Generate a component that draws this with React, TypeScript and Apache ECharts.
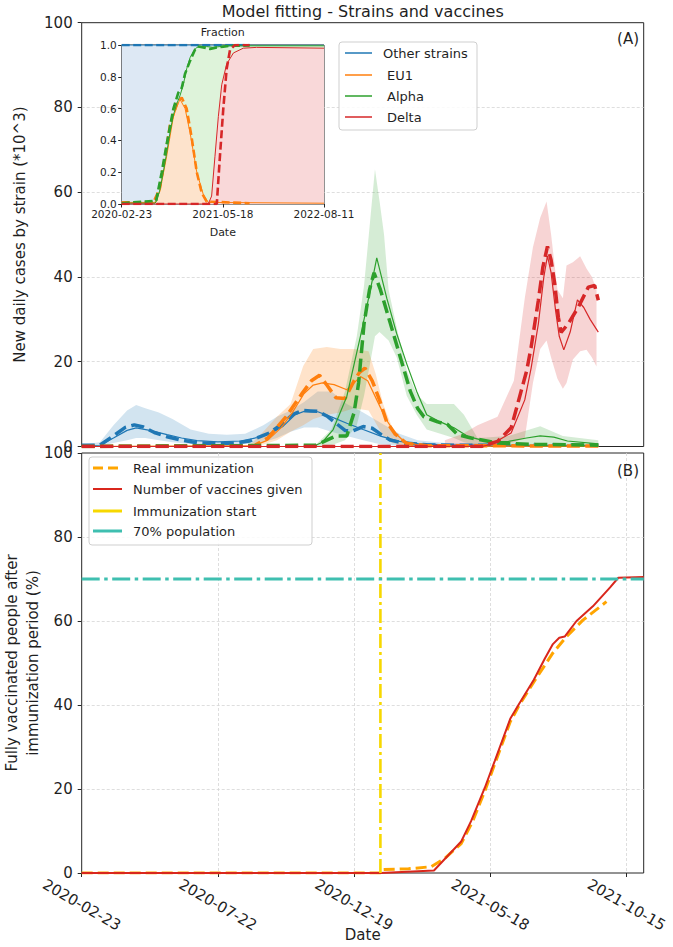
import React, { useEffect, useRef } from 'react';
import * as echarts from 'echarts';

const FONT = 'DejaVu Sans, Liberation Sans, sans-serif';
const TEXT = '#1f1f1f';

const START_DATE = '2020-02-23';
const END_DATE = '2021-11-03';
const INSET_END_DATE = '2022-08-11';
const IMMUNIZATION_START = '2021-01-17';
const POPULATION_TARGET = 70;

const mainTickDates = ['2020-02-23', '2020-07-22', '2020-12-19', '2021-05-18', '2021-10-15'];
const insetTickDates = ['2020-02-23', '2021-05-18', '2022-08-11'];

type Pt = [string, number];
type Band = [string, number, number];

// ---------- Panel A : new daily cases by strain (*10^3) ----------
const otherObserved: Pt[] = [
  ['2020-02-23', 0.3], ['2020-03-14', 0.3], ['2020-03-29', 2.5], ['2020-04-11', 4.5], ['2020-04-21', 5.1],
  ['2020-05-01', 4.6], ['2020-05-13', 3.3], ['2020-05-27', 2.3], ['2020-06-12', 1.5], ['2020-06-29', 0.9],
  ['2020-07-22', 0.6], ['2020-08-11', 0.8], ['2020-08-26', 1.3], ['2020-09-03', 2.0], ['2020-09-17', 3.2],
  ['2020-10-02', 5.5], ['2020-10-12', 7.5], ['2020-10-23', 8.5], ['2020-11-01', 8.4], ['2020-11-09', 8.3],
  ['2020-11-19', 7.2], ['2020-11-29', 5.5], ['2020-12-09', 3.8], ['2020-12-17', 3.6], ['2020-12-29', 4.7],
  ['2021-01-08', 4.3], ['2021-01-18', 2.8], ['2021-01-28', 1.5], ['2021-02-12', 0.8], ['2021-03-09', 0.4],
  ['2021-04-08', 0.3], ['2021-09-14', 0.3],
];
const otherModel: Pt[] = [
  ['2020-02-23', 0.2], ['2020-03-14', 0.3], ['2020-03-29', 2.0], ['2020-04-13', 3.8], ['2020-04-23', 4.4],
  ['2020-05-08', 3.8], ['2020-05-27', 2.8], ['2020-06-12', 2.0], ['2020-06-29', 1.4], ['2020-07-22', 1.1],
  ['2020-08-16', 1.3], ['2020-09-03', 2.1], ['2020-09-20', 3.3], ['2020-10-02', 4.8], ['2020-10-15', 7.5],
  ['2020-10-25', 8.3], ['2020-11-09', 8.2], ['2020-11-24', 7.0], ['2020-12-11', 5.5], ['2020-12-29', 4.0],
  ['2021-01-18', 2.4], ['2021-02-07', 1.2], ['2021-02-27', 0.7], ['2021-03-29', 0.4], ['2021-05-18', 0.3],
  ['2021-09-14', 0.2],
];
const otherBand: Band[] = [
  ['2020-02-23', 0, 0.5], ['2020-03-14', 0.1, 1.0], ['2020-03-29', 0.8, 5.0], ['2020-04-13', 1.5, 8.5],
  ['2020-04-23', 2.0, 9.8], ['2020-05-03', 2.0, 9.0], ['2020-05-18', 1.5, 8.0], ['2020-06-02', 1.0, 6.5],
  ['2020-06-22', 0.6, 4.0], ['2020-07-12', 0.4, 3.0], ['2020-08-01', 0.5, 2.8], ['2020-08-21', 0.6, 3.0],
  ['2020-09-10', 1.0, 5.0], ['2020-09-25', 2.0, 7.0], ['2020-10-10', 3.5, 8.5], ['2020-10-25', 4.5, 10.5],
  ['2020-11-09', 4.5, 13.0], ['2020-11-24', 3.5, 13.0], ['2020-12-11', 2.5, 10.0], ['2020-12-29', 1.5, 8.0],
  ['2021-01-18', 0.5, 5.5], ['2021-02-07', 0.2, 3.0], ['2021-02-27', 0.1, 1.5], ['2021-03-29', 0, 0.8],
  ['2021-09-14', 0, 0.5],
];

const eu1Observed: Pt[] = [
  ['2020-02-23', 0], ['2020-08-31', 0.2], ['2020-09-15', 2.0], ['2020-09-25', 4.5], ['2020-10-05', 7.0],
  ['2020-10-13', 9.5], ['2020-10-23', 12.6], ['2020-11-02', 15.5], ['2020-11-11', 16.8], ['2020-11-19', 14.5],
  ['2020-11-29', 11.5], ['2020-12-09', 11.3], ['2020-12-19', 15.5], ['2020-12-25', 17.5], ['2020-12-31', 18.5],
  ['2021-01-08', 15.5], ['2021-01-16', 11.0], ['2021-01-24', 5.8], ['2021-02-02', 3.0], ['2021-02-15', 0.7],
  ['2021-03-09', 0.2], ['2021-09-14', 0.1],
];
const eu1Model: Pt[] = [
  ['2020-02-23', 0], ['2020-08-31', 0.2], ['2020-09-15', 1.5], ['2020-09-30', 4.5], ['2020-10-12', 8.0],
  ['2020-10-25', 12.5], ['2020-11-04', 14.5], ['2020-11-14', 15.0], ['2020-11-27', 14.6], ['2020-12-11', 13.4],
  ['2020-12-19', 15.0], ['2020-12-26', 16.5], ['2021-01-03', 15.5], ['2021-01-13', 11.0], ['2021-01-23', 6.5],
  ['2021-02-02', 3.2], ['2021-02-12', 1.2], ['2021-02-27', 0.4], ['2021-03-29', 0.1], ['2021-09-14', 0.05],
];
const eu1Band: Band[] = [
  ['2020-08-26', 0, 0.3], ['2020-09-10', 0.5, 3.5], ['2020-09-25', 1.5, 7.0], ['2020-10-10', 3.5, 10.0],
  ['2020-10-24', 5.0, 19.0], ['2020-11-04', 6.5, 23.0], ['2020-11-19', 7.5, 23.5], ['2020-12-04', 8.0, 23.0],
  ['2020-12-19', 9.0, 23.0], ['2021-01-04', 8.5, 22.5], ['2021-01-12', 5.5, 17.0], ['2021-01-20', 2.5, 10.0],
  ['2021-01-30', 0.8, 4.5], ['2021-02-12', 0.1, 1.5], ['2021-03-09', 0, 0.3], ['2021-09-14', 0, 0.1],
];

const alphaObserved: Pt[] = [
  ['2020-02-23', 0], ['2020-11-07', 0.3], ['2020-11-19', 1.5], ['2020-11-29', 2.5], ['2020-12-11', 2.5],
  ['2020-12-19', 8.0], ['2020-12-24', 15.0], ['2020-12-30', 29.0], ['2021-01-05', 37.0], ['2021-01-10', 41.0],
  ['2021-01-17', 37.0], ['2021-01-28', 29.0], ['2021-02-08', 21.0], ['2021-02-19', 13.0], ['2021-02-27', 9.0],
  ['2021-03-06', 7.0], ['2021-03-21', 5.8], ['2021-04-01', 5.2], ['2021-04-12', 2.8], ['2021-04-27', 2.0],
  ['2021-05-26', 0.8], ['2021-07-07', 0.5], ['2021-09-14', 0.3],
];
const alphaModel: Pt[] = [
  ['2020-02-23', 0], ['2020-11-04', 0], ['2020-11-14', 1.0], ['2020-11-26', 4.0], ['2020-12-11', 11.8],
  ['2020-12-26', 26.0], ['2021-01-06', 37.0], ['2021-01-13', 44.5], ['2021-01-24', 35.0], ['2021-02-04', 26.6],
  ['2021-02-15', 19.5], ['2021-02-26', 13.0], ['2021-03-09', 7.5], ['2021-03-24', 5.8], ['2021-04-08', 4.4],
  ['2021-04-23', 2.4], ['2021-05-16', 1.1], ['2021-06-07', 1.2], ['2021-06-27', 2.0], ['2021-07-12', 2.5],
  ['2021-07-27', 2.2], ['2021-08-11', 1.3], ['2021-09-14', 0.6],
];
const alphaBand: Band[] = [
  ['2020-11-07', 0, 0.5], ['2020-11-24', 0.3, 4.0], ['2020-12-09', 1.5, 13.0], ['2020-12-22', 5.0, 26.0],
  ['2020-12-30', 12.0, 38.0], ['2021-01-06', 20.0, 54.0], ['2021-01-11', 26.0, 65.4], ['2021-01-16', 27.0, 58.0],
  ['2021-01-21', 26.0, 50.0], ['2021-01-26', 25.0, 37.0], ['2021-02-04', 21.0, 28.0], ['2021-02-15', 12.0, 18.0],
  ['2021-02-26', 7.5, 12.3], ['2021-03-09', 4.0, 10.0], ['2021-03-24', 3.0, 10.0], ['2021-04-08', 2.0, 10.0],
  ['2021-04-19', 1.0, 7.5], ['2021-05-04', 0.3, 2.0], ['2021-06-07', 0.2, 2.5], ['2021-07-12', 0.5, 4.8],
  ['2021-08-06', 0.3, 2.5], ['2021-09-14', 0.1, 1.5],
];

const deltaObserved: Pt[] = [
  ['2020-02-23', 0], ['2021-05-08', 0], ['2021-05-26', 1.2], ['2021-06-10', 4.4], ['2021-06-17', 9.9],
  ['2021-06-27', 17.8], ['2021-07-02', 23.4], ['2021-07-10', 34.5], ['2021-07-15', 42.4], ['2021-07-20', 47.2],
  ['2021-07-24', 44.0], ['2021-07-28', 38.4], ['2021-08-01', 30.5], ['2021-08-04', 26.9], ['2021-08-12', 29.0],
  ['2021-08-23', 32.9], ['2021-09-03', 37.6], ['2021-09-10', 38.0], ['2021-09-14', 34.5],
];
const deltaModel: Pt[] = [
  ['2020-02-23', 0], ['2021-05-08', 0], ['2021-05-19', 0.5], ['2021-06-10', 3.2], ['2021-06-25', 11.0],
  ['2021-07-02', 18.5], ['2021-07-10', 29.0], ['2021-07-16', 40.0], ['2021-07-20', 45.0], ['2021-07-24', 41.0],
  ['2021-07-29', 32.0], ['2021-08-02', 26.0], ['2021-08-07', 22.8], ['2021-08-14', 27.0], ['2021-08-22', 34.6],
  ['2021-08-29', 32.8], ['2021-09-05', 30.0], ['2021-09-14', 27.0],
];
const deltaBand: Band[] = [
  ['2021-03-29', 0, 1.5], ['2021-04-18', 0, 3.0], ['2021-05-04', 0, 5.0], ['2021-05-26', 0.5, 7.0],
  ['2021-06-13', 1.0, 15.5], ['2021-06-25', 2.0, 35.0], ['2021-07-04', 15.0, 47.0], ['2021-07-12', 23.0, 54.0],
  ['2021-07-19', 25.0, 57.8], ['2021-07-24', 21.0, 50.0], ['2021-07-31', 16.0, 37.0], ['2021-08-06', 13.6, 35.0],
  ['2021-08-10', 15.0, 42.7], ['2021-08-17', 20.5, 43.5], ['2021-08-25', 22.5, 44.9], ['2021-09-01', 22.8, 42.0],
  ['2021-09-07', 21.0, 40.0], ['2021-09-12', 18.9, 37.0],
];

// ---------- Inset : fraction of strains (cumulative) ----------
const fracOtherModel: Pt[] = [['2020-02-23', 1], ['2022-08-11', 1]];
const fracOtherObserved: Pt[] = [['2020-02-23', 1], ['2021-09-14', 1]];
const fracEu1Model: Pt[] = [
  ['2020-02-23', 0.01], ['2020-07-20', 0.01], ['2020-08-11', 0.08], ['2020-09-10', 0.3], ['2020-10-10', 0.55],
  ['2020-11-08', 0.66], ['2020-12-01', 0.6], ['2020-12-23', 0.45], ['2021-01-22', 0.2], ['2021-02-20', 0.06],
  ['2021-03-14', 0.01], ['2022-08-11', 0.005],
];
const fracEu1Observed: Pt[] = [
  ['2020-02-23', 0.01], ['2020-07-13', 0.01], ['2020-08-11', 0.1], ['2020-09-03', 0.3], ['2020-09-25', 0.5],
  ['2020-10-25', 0.63], ['2020-11-16', 0.67], ['2020-12-08', 0.6], ['2020-12-30', 0.42], ['2021-01-22', 0.2],
  ['2021-02-13', 0.07], ['2021-03-07', 0.015], ['2021-09-14', 0.005],
];
const fracAlphaModel: Pt[] = [
  ['2020-02-23', 0.005], ['2020-07-20', 0.005], ['2020-07-28', 0.02], ['2020-08-11', 0.09], ['2020-08-26', 0.2],
  ['2020-09-10', 0.32], ['2020-09-25', 0.45], ['2020-10-10', 0.56], ['2020-10-25', 0.63], ['2020-11-08', 0.68],
  ['2020-11-23', 0.75], ['2020-12-08', 0.85], ['2020-12-23', 0.92], ['2021-01-07', 0.96], ['2021-01-22', 0.985],
  ['2021-03-07', 0.99], ['2021-04-06', 0.985], ['2021-05-05', 0.99], ['2021-06-19', 0.995], ['2022-08-11', 0.995],
];
const fracAlphaObserved: Pt[] = [
  ['2020-02-23', 0.005], ['2020-07-25', 0.02], ['2020-08-19', 0.2], ['2020-09-13', 0.4], ['2020-10-10', 0.6],
  ['2020-11-01', 0.7], ['2020-11-16', 0.73], ['2020-12-01', 0.82], ['2020-12-23', 0.9], ['2021-01-14', 0.97],
  ['2021-01-29', 0.99], ['2021-02-20', 0.985], ['2021-03-22', 0.975], ['2021-04-21', 0.985], ['2021-05-20', 0.99],
  ['2021-06-19', 0.995], ['2021-09-14', 0.997],
];
const fracDeltaModel: Pt[] = [
  ['2020-02-23', 0], ['2021-03-14', 0], ['2021-03-29', 0.05], ['2021-04-13', 0.3], ['2021-04-28', 0.55],
  ['2021-05-13', 0.75], ['2021-06-04', 0.88], ['2021-07-04', 0.95], ['2021-08-17', 0.98], ['2021-10-15', 0.985],
  ['2022-08-11', 0.98],
];
const fracDeltaObserved: Pt[] = [
  ['2020-02-23', 0], ['2021-04-21', 0], ['2021-05-05', 0.3], ['2021-05-20', 0.6], ['2021-06-04', 0.85],
  ['2021-06-19', 0.97], ['2021-07-11', 1.0], ['2021-09-14', 1.0],
];

// ---------- Panel B : immunization ----------
const realImmunization: Pt[] = [
  ['2020-02-23', 0], ['2021-01-17', 0], ['2021-01-19', 0.8], ['2021-02-17', 1.0], ['2021-03-14', 1.5],
  ['2021-03-29', 3.5], ['2021-04-16', 7.0], ['2021-04-28', 12.0], ['2021-05-12', 19.5], ['2021-05-23', 26.0],
  ['2021-06-09', 36.0], ['2021-06-19', 40.0], ['2021-07-05', 45.5], ['2021-07-26', 52.4], ['2021-08-10', 56.3],
  ['2021-08-28', 60.2], ['2021-09-23', 64.6],
];
const vaccinesGiven: Pt[] = [
  ['2020-02-23', 0], ['2021-01-17', 0], ['2021-03-17', 0.6], ['2021-04-16', 7.5], ['2021-04-27', 12.4],
  ['2021-05-12', 20.3], ['2021-05-23', 26.7], ['2021-06-09', 36.7], ['2021-06-18', 40.0], ['2021-07-05', 46.0],
  ['2021-07-17', 51.0], ['2021-07-26', 54.5], ['2021-08-02', 56.0], ['2021-08-08', 56.3], ['2021-08-21', 60.0],
  ['2021-09-08', 63.5], ['2021-09-27', 68.0], ['2021-10-06', 70.3], ['2021-11-03', 70.5],
];
const immunizationStartLine: Pt[] = [[IMMUNIZATION_START, 0], [IMMUNIZATION_START, 100]];
const populationLine: Pt[] = [[START_DATE, POPULATION_TARGET], [END_DATE, POPULATION_TARGET]];

const C = {
  blue: '#1f77b4', orange: '#ff7f0e', green: '#2ca02c', red: '#d62728',
  vacOrange: '#ffa500', vacRed: '#d9261c', gold: '#f7d800', teal: '#3fbfb0',
};

const DAY_MS = 86400000;
const T0 = Date.parse(START_DATE);
const toDay = (s: string) => Math.round((Date.parse(s) - T0) / DAY_MS);
const fromDay = (d: number) => new Date(T0 + Math.round(d) * DAY_MS).toISOString().slice(0, 10);
const pts = (a: Pt[]) => a.map(([d, v]) => [toDay(d), v]);

function line(data: Pt[], color: string, width: number, dash: any, axis: number, area?: string) {
  const s: any = {
    type: 'line', xAxisIndex: axis, yAxisIndex: axis, data: pts(data),
    symbol: 'none', showSymbol: false, silent: true,
    lineStyle: { color, width, type: dash, cap: 'butt' },
    emphasis: { disabled: true },
  };
  if (area) {
    s.areaStyle = { color: area, opacity: 1 };
    s.lineStyle = { width: 0, opacity: 0 };
  }
  return s;
}

function band(data: Band[], fill: string) {
  const days = data.map((r) => toDay(r[0]));
  return {
    type: 'custom', xAxisIndex: 0, yAxisIndex: 0, silent: true,
    data: data.map((r, i) => [days[i], r[1], r[2]]),
    encode: { x: 0, y: [1, 2] },
    renderItem: (params: any, api: any) => {
      if (params.dataIndex !== 0) return null;
      const top = data.map((r, i) => api.coord([days[i], r[2]]));
      const bottom = data.map((r, i) => api.coord([days[i], r[1]])).reverse();
      return { type: 'polygon', shape: { points: top.concat(bottom) }, style: { fill } };
    },
  };
}

function txt(text: string, x: number, y: number, size: number, align = 'center', rotation = 0) {
  return {
    type: 'text', x, y, rotation, z: 100, silent: true,
    style: { text, fontSize: size, fontFamily: FONT, fill: TEXT, align, verticalAlign: 'middle' },
  };
}
function seg(x1: number, x2: number, y: number, stroke: string, lineWidth: number, lineDash?: number[]) {
  return { type: 'line', z: 101, silent: true, shape: { x1, y1: y, x2, y2: y }, style: { stroke, lineWidth, lineDash } };
}
function box(x: number, y: number, w: number, h: number) {
  return {
    type: 'rect', z: 99, silent: true, shape: { x, y, width: w, height: h, r: 3 },
    style: { fill: 'rgba(255,255,255,0.85)', stroke: '#cfcfcf', lineWidth: 1 },
  };
}

const DASH_MAIN = [13, 5.5];
const DASH_INSET = [8, 3.5];

export default function App() {
  const ref = useRef<HTMLDivElement>(null);
  useEffect(() => {
    if (!ref.current) return;
    const chart = echarts.init(ref.current, null, { renderer: 'svg' });
    const xMax = toDay(END_DATE);
    const mainTicks = mainTickDates.map(toDay);
    const insetTicks = insetTickDates.map(toDay);
    const split = { show: true, showMinLine: false, showMaxLine: false, lineStyle: { color: '#d6d6d6', width: 0.8, type: [3, 2] } };
    const tickStyle = { lineStyle: { color: '#262626', width: 1 } };
    const gridBox = { show: true, borderColor: '#262626', borderWidth: 1, backgroundColor: 'transparent' };

    const option: any = {
      animation: false,
      grid: [
        { left: 81.7, top: 22.7, width: 562, height: 423.8, ...gridBox },
        { left: 81.7, top: 453, width: 562, height: 420, ...gridBox },
        { left: 121.7, top: 45, width: 202.3, height: 159, ...gridBox, backgroundColor: '#ffffff' },
      ],
      xAxis: [
        { gridIndex: 0, type: 'value', min: 0, max: xMax, interval: 150, axisLine: { show: false },
          axisTick: { show: false }, axisLabel: { show: false }, splitLine: { show: false } },
        { gridIndex: 1, type: 'value', min: 0, max: xMax, interval: 150, axisLine: { show: false },
          axisTick: { show: true, length: 4, customValues: mainTicks, ...tickStyle },
          axisLabel: { customValues: mainTicks, rotate: -30, align: 'center', verticalAlign: 'middle',
            margin: 32, fontSize: 15, fontFamily: FONT, color: TEXT,
            formatter: (v: number) => (mainTicks.includes(Math.round(v)) ? fromDay(v) : '') },
          splitLine: { ...split, showMaxLine: true } },
        { gridIndex: 2, type: 'value', min: 0, max: toDay(INSET_END_DATE), interval: 450, axisLine: { show: false },
          axisTick: { show: true, length: 3.5, customValues: insetTicks, ...tickStyle },
          axisLabel: { customValues: insetTicks, margin: 4, fontSize: 10.5, fontFamily: FONT, color: TEXT,
            formatter: (v: number) => fromDay(v) },
          splitLine: { show: false } },
      ],
      yAxis: [
        { gridIndex: 0, type: 'value', min: 0, max: 100, interval: 20, axisLine: { show: false },
          axisTick: { show: true, length: 4, ...tickStyle },
          axisLabel: { margin: 9, fontSize: 15, fontFamily: FONT, color: TEXT }, splitLine: split },
        { gridIndex: 1, type: 'value', min: 0, max: 100, interval: 20, axisLine: { show: false },
          axisTick: { show: true, length: 4, ...tickStyle },
          axisLabel: { margin: 9, fontSize: 15, fontFamily: FONT, color: TEXT }, splitLine: split },
        { gridIndex: 2, type: 'value', min: 0, max: 1, interval: 0.2, axisLine: { show: false },
          axisTick: { show: true, length: 3.5, ...tickStyle },
          axisLabel: { margin: 5, fontSize: 10.5, fontFamily: FONT, color: TEXT, formatter: (v: number) => v.toFixed(1) },
          splitLine: { show: false } },
      ],
      series: [
        band(otherBand, 'rgba(31,119,180,0.2)'),
        band(eu1Band, 'rgba(255,127,14,0.22)'),
        band(alphaBand, 'rgba(44,160,44,0.2)'),
        band(deltaBand, 'rgba(214,39,40,0.2)'),
        line(otherModel, C.blue, 1.2, 'solid', 0),
        line(otherObserved, C.blue, 3.5, DASH_MAIN, 0),
        line(eu1Model, C.orange, 1.2, 'solid', 0),
        line(eu1Observed, C.orange, 3.5, DASH_MAIN, 0),
        line(alphaModel, C.green, 1.2, 'solid', 0),
        line(alphaObserved, C.green, 3.5, DASH_MAIN, 0),
        line(deltaModel, C.red, 1.2, 'solid', 0),
        line(deltaObserved, C.red, 3.5, DASH_MAIN, 0),

        line(realImmunization, C.vacOrange, 3, [11, 5], 1),
        line(vaccinesGiven, C.vacRed, 2, 'solid', 1),
        line(immunizationStartLine, C.gold, 2.6, [14, 4, 3, 4], 1),
        line(populationLine, C.teal, 3, [18, 4.5, 3.5, 4.5], 1),

        line(fracOtherModel, '', 0, 'solid', 2, '#dde8f4'),
        line(fracAlphaModel, '', 0, 'solid', 2, '#def3da'),
        line(fracEu1Model, '', 0, 'solid', 2, '#fde3cc'),
        line(fracDeltaModel, '', 0, 'solid', 2, '#f9d8d9'),
        line(fracOtherModel, C.blue, 1, 'solid', 2),
        line(fracOtherObserved, C.blue, 2.6, DASH_INSET, 2),
        line(fracEu1Model, C.orange, 1, 'solid', 2),
        line(fracEu1Observed, C.orange, 2.6, DASH_INSET, 2),
        line(fracAlphaModel, C.green, 1, 'solid', 2),
        line(fracAlphaObserved, C.green, 2.6, DASH_INSET, 2),
        line(fracDeltaModel, C.red, 1, 'solid', 2),
        line(fracDeltaObserved, C.red, 2.6, DASH_INSET, 2),
      ],
      graphic: [
        txt('Model fitting - Strains and vaccines', 362.7, 11, 16),
        txt('New daily cases by strain (*10^3)', 20, 234.6, 15, 'center', Math.PI / 2),
        txt('Fully vaccinated people after', 12, 663, 15, 'center', Math.PI / 2),
        txt('immunization period (%)', 33, 663, 15, 'center', Math.PI / 2),
        txt('Date', 362.7, 935, 15),
        txt('(A)', 639, 39, 15, 'right'),
        txt('(B)', 639, 471, 15, 'right'),
        txt('Fraction', 222.8, 32, 11),
        txt('Date', 222.8, 232, 11),

        box(339, 42, 138, 88),
        seg(345, 372, 53, C.blue, 1.5), txt('Other strains', 383, 53, 13, 'left'),
        seg(345, 372, 75, C.orange, 1.5), txt('EU1', 387, 75, 13, 'left'),
        seg(345, 372, 96, C.green, 1.5), txt('Alpha', 387, 96, 13, 'left'),
        seg(345, 372, 117, C.red, 1.5), txt('Delta', 387, 117, 13, 'left'),

        box(89, 457, 223, 88),
        seg(93, 122, 468, C.vacOrange, 3, [10, 5]), txt('Real immunization', 133, 468, 13, 'left'),
        seg(93, 122, 489, C.vacRed, 2), txt('Number of vaccines given', 133, 489, 13, 'left'),
        seg(93, 122, 511, C.gold, 3), txt('Immunization start', 133, 511, 13, 'left'),
        seg(93, 122, 531, C.teal, 3), txt('70% population', 133, 531, 13, 'left'),
      ],
    };
    chart.setOption(option);
    return () => chart.dispose();
  }, []);
  return <div ref={ref} style={{ position: 'fixed', left: 0, top: 0, width: 673, height: 947, background: '#fff' }} />;
}
